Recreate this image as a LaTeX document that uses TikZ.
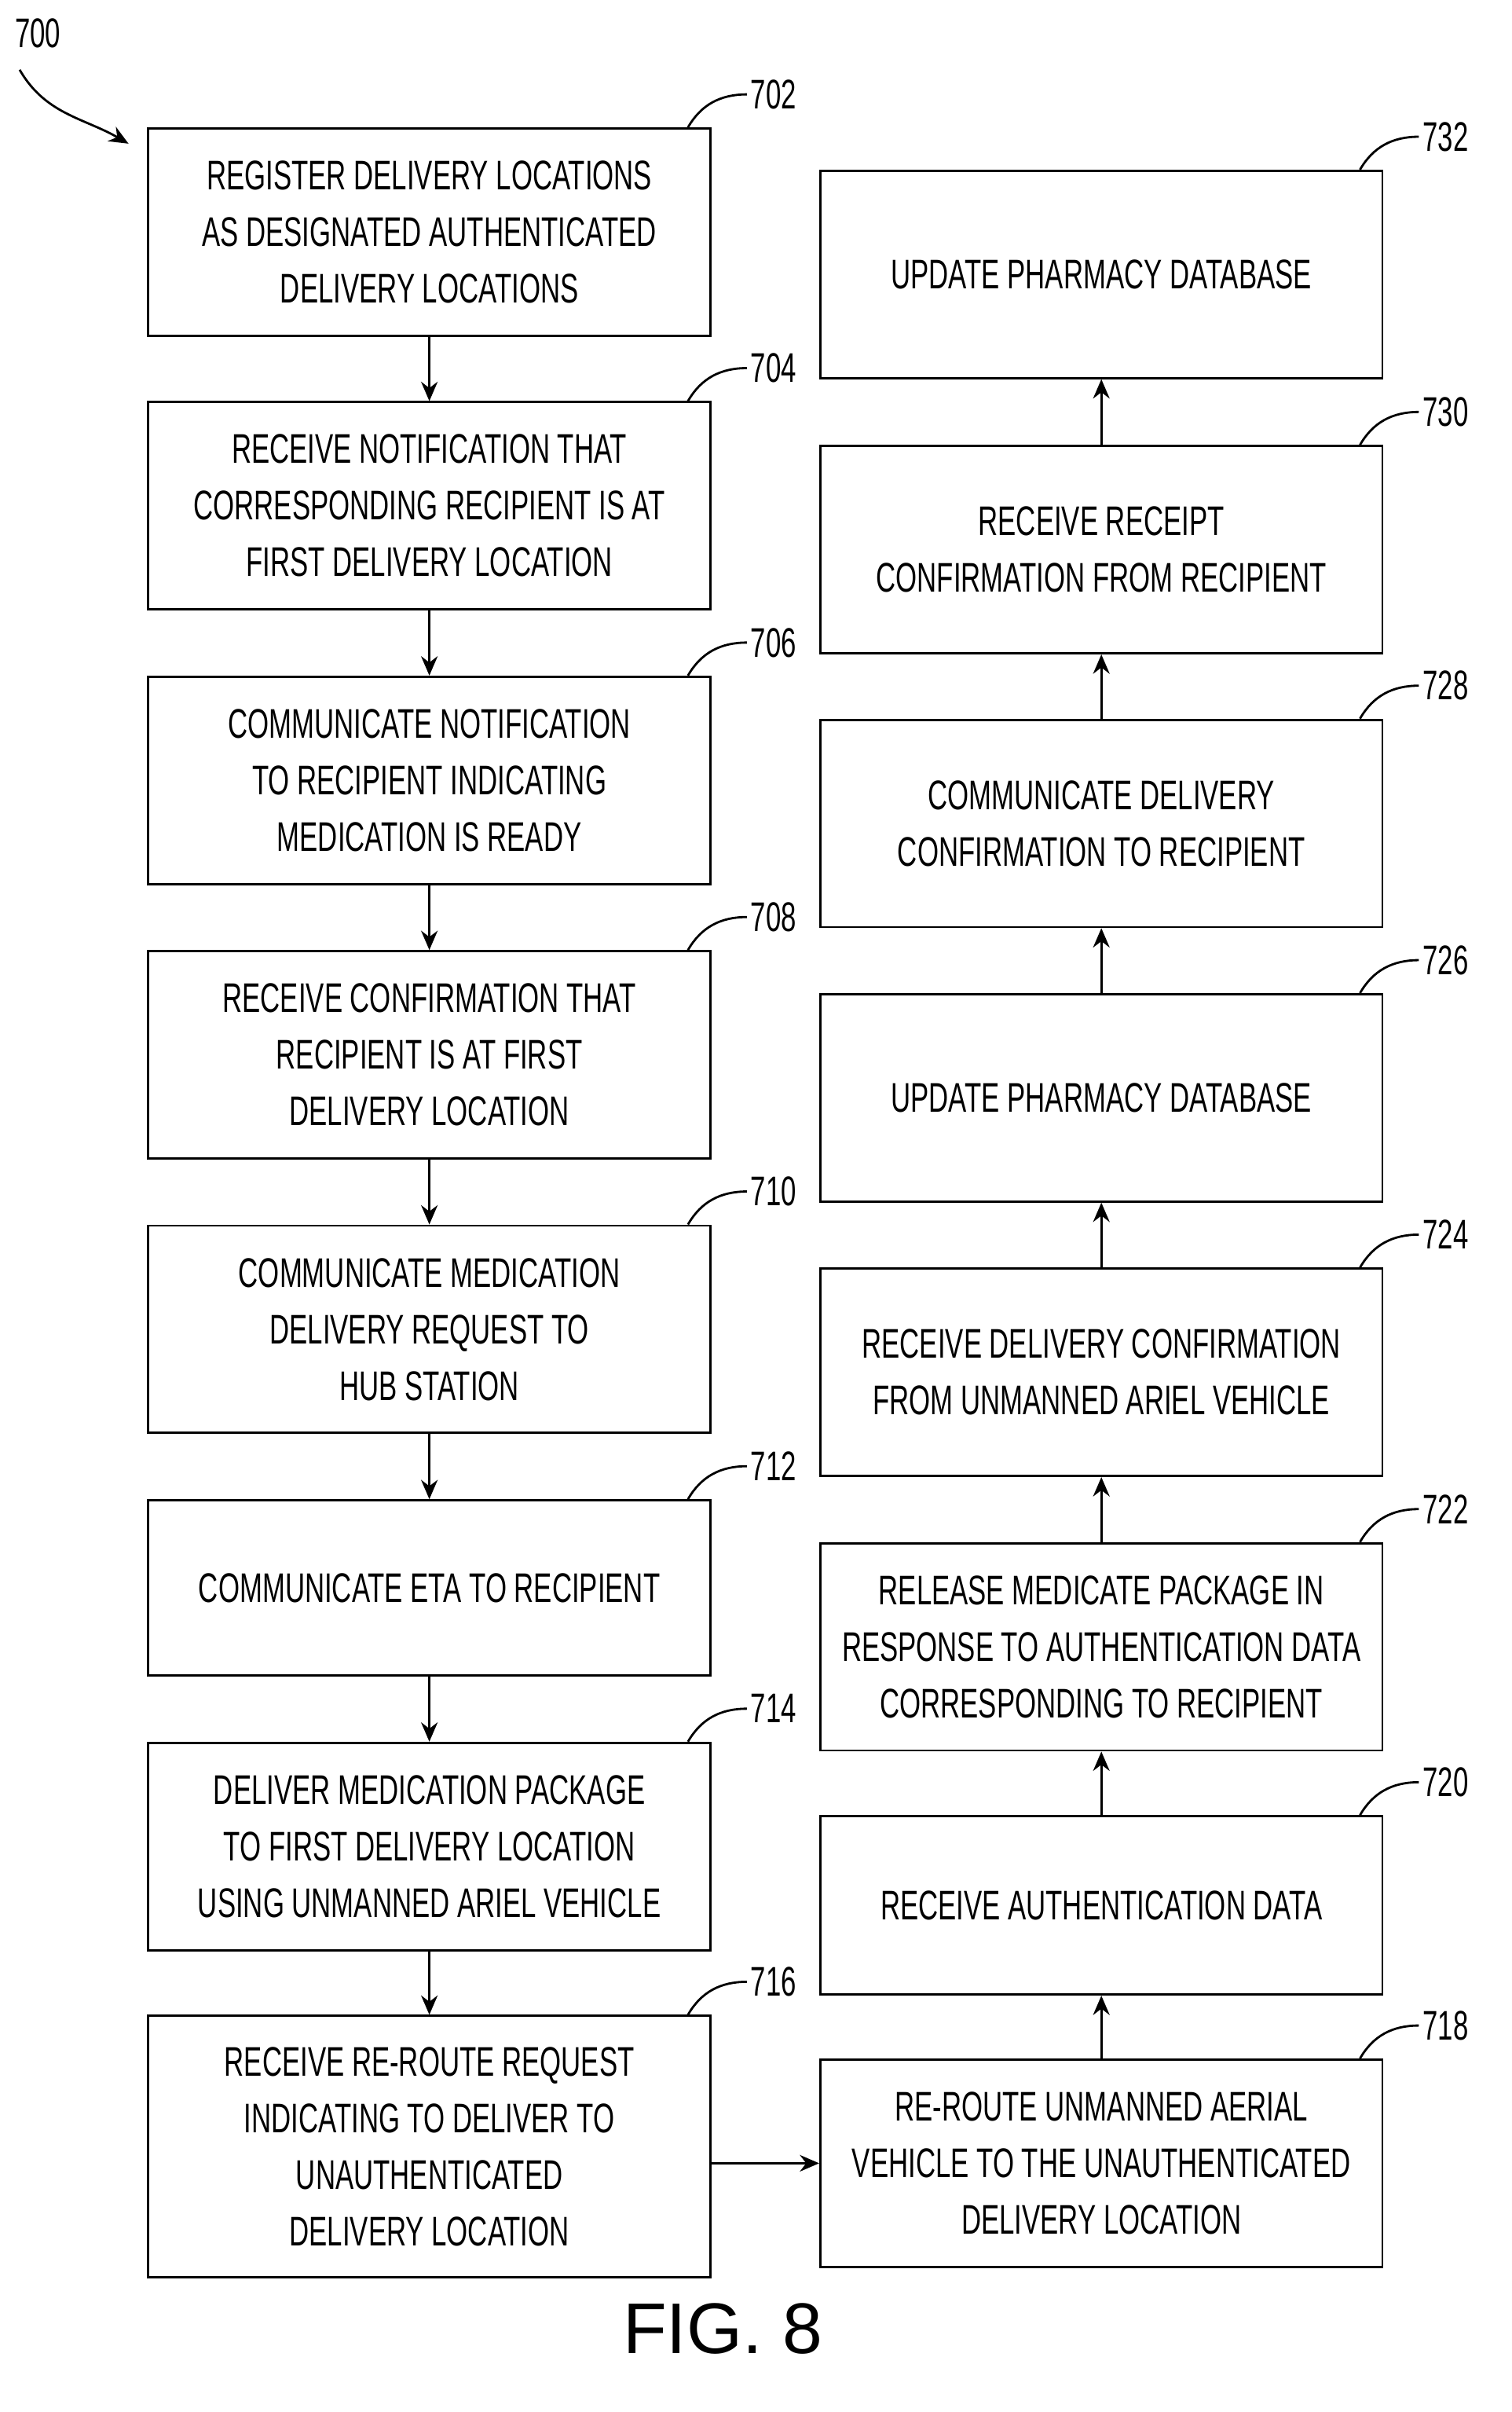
\documentclass[tikz,border=0pt]{standalone}
\usepackage{fontspec}
\setmainfont{Liberation Sans}
\newfontfamily\narrow[FakeStretch=0.66]{Liberation Sans}
\usetikzlibrary{arrows.meta}
\begin{document}
\begin{tikzpicture}[x=0.01925cm, y=-0.01925cm,
    flowstep/.style={draw, thick, minimum width=7.16cm, minimum height=2.64cm,
        align=center, font=\narrow\fontsize{15}{20.5}\selectfont},
    flow/.style={thick, -{Stealth[length=7pt, width=6pt]}},
    ref/.style={font=\narrow\fontsize{15}{18}\selectfont, right, inner sep=1pt}
        ]

    \path [use as bounding box] (0,0) rectangle (1000,1595);

    % left column
    \node [flowstep] (b702) at (284,153.5) {REGISTER DELIVERY LOCATIONS\\AS DESIGNATED AUTHENTICATED\\DELIVERY LOCATIONS};
    \node [flowstep] (b704) at (284,334.5) {RECEIVE NOTIFICATION THAT\\CORRESPONDING RECIPIENT IS AT\\FIRST DELIVERY LOCATION};
    \node [flowstep] (b706) at (284,516) {COMMUNICATE NOTIFICATION\\TO RECIPIENT INDICATING\\MEDICATION IS READY};
    \node [flowstep] (b708) at (284,697.5) {RECEIVE CONFIRMATION THAT\\RECIPIENT IS AT FIRST\\DELIVERY LOCATION};
    \node [flowstep] (b710) at (284,879) {COMMUNICATE MEDICATION\\DELIVERY REQUEST TO\\HUB STATION};
    \node [flowstep, minimum height=2.23cm] (b712) at (284,1050) {COMMUNICATE ETA TO RECIPIENT};
    \node [flowstep] (b714) at (284,1221) {DELIVER MEDICATION PACKAGE\\TO FIRST DELIVERY LOCATION\\USING UNMANNED ARIEL VEHICLE};
    \node [flowstep, minimum height=3.33cm] (b716) at (284,1419.5) {RECEIVE RE-ROUTE REQUEST\\INDICATING TO DELIVER TO\\UNAUTHENTICATED\\DELIVERY LOCATION};

    % right column
    \node [flowstep] (b718) at (728.5,1430.5) {RE-ROUTE UNMANNED AERIAL\\VEHICLE TO THE UNAUTHENTICATED\\DELIVERY LOCATION};
    \node [flowstep, minimum height=2.27cm] (b720) at (728.5,1260) {RECEIVE AUTHENTICATION DATA};
    \node [flowstep] (b722) at (728.5,1089) {RELEASE MEDICATE PACKAGE IN\\RESPONSE TO AUTHENTICATION DATA\\CORRESPONDING TO RECIPIENT};
    \node [flowstep] (b724) at (728.5,907.5) {RECEIVE DELIVERY CONFIRMATION\\FROM UNMANNED ARIEL VEHICLE};
    \node [flowstep] (b726) at (728.5,726) {UPDATE PHARMACY DATABASE};
    \node [flowstep] (b728) at (728.5,544.5) {COMMUNICATE DELIVERY\\CONFIRMATION TO RECIPIENT};
    \node [flowstep] (b730) at (728.5,363.5) {RECEIVE RECEIPT\\CONFIRMATION FROM RECIPIENT};
    \node [flowstep] (b732) at (728.5,181.5) {UPDATE PHARMACY DATABASE};

    \draw [flow] (b702) -- (b704);
    \draw [flow] (b704) -- (b706);
    \draw [flow] (b706) -- (b708);
    \draw [flow] (b708) -- (b710);
    \draw [flow] (b710) -- (b712);
    \draw [flow] (b712) -- (b714);
    \draw [flow] (b714) -- (b716);
    \draw [flow] (b716.east |- b718.west) -- (b718.west);
    \draw [flow] (b718) -- (b720);
    \draw [flow] (b720) -- (b722);
    \draw [flow] (b722) -- (b724);
    \draw [flow] (b724) -- (b726);
    \draw [flow] (b726) -- (b728);
    \draw [flow] (b728) -- (b730);
    \draw [flow] (b730) -- (b732);

    % reference numerals
    \foreach \b in {702,704,706,708,710,712,714,716,718,720,722,724,726,728,730,732}
        \draw [thick] ([xshift=-0.3cm]b\b.north east) to[out=60, in=180]
            ++(0.75cm,0.42cm) node [ref] {\b};

    \node [font=\narrow\fontsize{15}{18}\selectfont] (n700) at (25,22) {700};
    \draw [flow] (n700.south) ++(-12,8) to[out=-60, in=150] (85,95);

    \node [font=\fontsize{26}{30}\selectfont] (fig) at (478,1540) {FIG. 8};

\end{tikzpicture}
\end{document}
